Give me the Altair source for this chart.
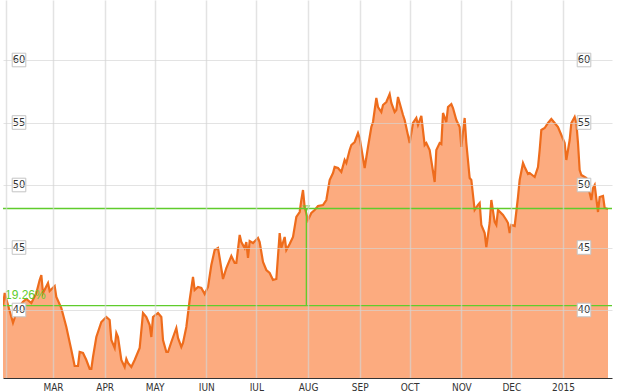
import altair as alt
import pandas as pd

# ---- price series ----
dates = [
    "2014-01-30", "2014-01-31", "2014-02-02", "2014-02-05", "2014-02-08", "2014-02-11",
    "2014-02-13", "2014-02-16", "2014-02-19", "2014-02-21", "2014-02-22", "2014-02-23",
    "2014-02-26", "2014-02-27", "2014-03-02", "2014-03-03", "2014-03-06", "2014-03-09",
    "2014-03-12", "2014-03-14", "2014-03-16", "2014-03-17", "2014-03-19", "2014-03-21",
    "2014-03-23", "2014-03-24", "2014-03-25", "2014-03-27", "2014-03-30", "2014-04-02",
    "2014-04-04", "2014-04-05", "2014-04-07", "2014-04-08", "2014-04-09", "2014-04-11",
    "2014-04-13", "2014-04-14", "2014-04-15", "2014-04-17", "2014-04-19", "2014-04-22",
    "2014-04-24", "2014-04-26", "2014-04-28", "2014-04-29", "2014-04-30", "2014-05-03",
    "2014-05-05", "2014-05-06", "2014-05-08", "2014-05-09", "2014-05-11", "2014-05-14",
    "2014-05-15", "2014-05-17", "2014-05-18", "2014-05-20", "2014-05-22", "2014-05-24",
    "2014-05-25", "2014-05-27", "2014-05-29", "2014-05-31", "2014-06-02", "2014-06-04",
    "2014-06-06", "2014-06-08", "2014-06-09", "2014-06-11", "2014-06-13", "2014-06-16",
    "2014-06-18", "2014-06-19", "2014-06-21", "2014-06-22", "2014-06-24", "2014-06-25",
    "2014-06-26", "2014-06-27", "2014-06-29", "2014-07-02", "2014-07-03", "2014-07-05",
    "2014-07-07", "2014-07-09", "2014-07-11", "2014-07-13", "2014-07-15", "2014-07-16",
    "2014-07-18", "2014-07-19", "2014-07-21", "2014-07-23", "2014-07-25", "2014-07-27",
    "2014-07-28", "2014-07-29", "2014-07-30", "2014-08-01", "2014-08-03", "2014-08-05",
    "2014-08-07", "2014-08-10", "2014-08-12", "2014-08-14", "2014-08-16", "2014-08-17",
    "2014-08-19", "2014-08-21", "2014-08-23", "2014-08-24", "2014-08-26", "2014-08-27",
    "2014-08-29", "2014-08-31", "2014-09-01", "2014-09-04", "2014-09-06", "2014-09-08",
    "2014-09-09", "2014-09-11", "2014-09-12", "2014-09-14", "2014-09-15", "2014-09-17",
    "2014-09-19", "2014-09-20", "2014-09-22", "2014-09-23", "2014-09-24", "2014-09-27",
    "2014-09-28", "2014-10-01", "2014-10-03", "2014-10-05", "2014-10-06", "2014-10-08",
    "2014-10-10", "2014-10-11", "2014-10-13", "2014-10-16", "2014-10-17", "2014-10-19",
    "2014-10-20", "2014-10-21", "2014-10-23", "2014-10-24", "2014-10-26", "2014-10-27",
    "2014-10-29", "2014-10-31", "2014-11-01", "2014-11-02", "2014-11-03", "2014-11-04",
    "2014-11-06", "2014-11-07", "2014-11-09", "2014-11-11", "2014-11-12", "2014-11-13",
    "2014-11-15", "2014-11-16", "2014-11-18", "2014-11-19", "2014-11-21", "2014-11-22",
    "2014-11-23", "2014-11-26", "2014-11-28", "2014-11-29", "2014-11-30", "2014-12-01",
    "2014-12-03", "2014-12-05", "2014-12-06", "2014-12-08", "2014-12-09", "2014-12-11",
    "2014-12-12", "2014-12-15", "2014-12-17", "2014-12-18", "2014-12-19", "2014-12-21",
    "2014-12-23", "2014-12-25", "2014-12-27", "2014-12-29", "2014-12-31", "2015-01-02",
    "2015-01-03", "2015-01-05", "2015-01-06", "2015-01-08", "2015-01-09", "2015-01-10",
    "2015-01-11", "2015-01-12", "2015-01-15", "2015-01-17", "2015-01-18", "2015-01-19",
    "2015-01-20", "2015-01-22", "2015-01-23", "2015-01-25", "2015-01-26", "2015-01-28",
]
prices = [
    40.32, 41.36, 40.40, 38.98, 40.16, 40.66,
    40.88, 40.56, 41.36, 42.40, 42.80, 41.36,
    42.16, 41.52, 41.92, 41.04, 40.16, 38.64,
    36.80, 35.52, 35.52, 36.64, 36.56, 36.00,
    35.28, 35.28, 36.24, 37.84, 39.04, 39.44,
    39.20, 37.60, 36.96, 38.16, 37.84, 36.00,
    35.44, 36.08, 35.76, 35.44, 36.00, 36.96,
    39.76, 39.44, 38.80, 37.84, 39.44, 39.76,
    39.44, 37.60, 36.64, 36.64, 37.44, 38.56,
    37.76, 37.04, 37.36, 38.64, 40.80, 42.64,
    41.60, 41.84, 41.76, 41.28, 41.84, 43.60,
    44.80, 44.96, 44.16, 42.48, 43.36, 44.32,
    43.76, 43.76, 46.00, 45.44, 44.96, 45.44,
    44.16, 45.52, 45.36, 45.76, 45.44, 43.84,
    43.20, 42.96, 42.40, 42.48, 46.16, 44.96,
    45.84, 44.80, 45.28, 45.84, 47.44, 47.84,
    48.80, 49.60, 48.24, 47.20, 47.76, 48.00,
    48.32, 48.40, 48.80, 50.40, 50.96, 51.44,
    51.36, 51.04, 52.00, 51.76, 52.80, 53.20,
    53.44, 54.16, 53.76, 51.36, 53.04, 54.64,
    55.04, 56.96, 56.24, 55.84, 56.40, 56.64,
    57.28, 56.56, 55.84, 56.00, 57.04, 55.60,
    55.20, 53.36, 54.96, 55.36, 54.80, 55.52,
    53.20, 53.36, 52.80, 50.24, 52.80, 53.36,
    53.28, 55.76, 55.04, 56.24, 56.48, 56.16,
    55.20, 54.64, 53.04, 54.24, 55.36, 53.36,
    50.56, 50.40, 48.00, 48.40, 48.56, 46.80,
    46.16, 45.04, 46.96, 48.80, 47.04, 46.80,
    48.00, 47.60, 47.20, 46.96, 46.16, 46.80,
    46.72, 49.04, 50.40, 51.76, 51.44, 50.88,
    50.96, 50.64, 51.44, 52.80, 54.40, 54.56,
    54.96, 55.28, 54.96, 54.64, 54.00, 53.36,
    52.00, 53.60, 54.96, 55.44, 54.96, 53.36,
    51.20, 50.80, 50.56, 49.36, 48.80, 49.76,
    50.00, 47.84, 49.04, 49.12, 48.16, 48.08,
]

# ---- measurement overlay ----
measure_low = 40.35
measure_high = 48.12
measure_date = "2014-07-31"
measure_label = "19.26%"

# ---- axis ticks ----
y_ticks = [40, 45, 50, 55, 60]
y_tick_labels = ["40", "45", "50", "55", "60"]
month_starts = [(2014, m) for m in range(2, 13)] + [(2015, 1)]

GREEN = "#5fcc2c"
FONT_NARROW = "Liberation Sans Narrow, Arial Narrow, DejaVu Sans Condensed, Liberation Sans"

df = pd.DataFrame({"date": dates, "price": prices})
ylab = pd.DataFrame({"v": y_ticks, "t": y_tick_labels})
hl = pd.DataFrame({"v": [measure_low, measure_high]})
vl = pd.DataFrame({"date": [measure_date], "lo": [measure_low], "hi": [measure_high]})
tl = pd.DataFrame({"date": [dates[0]], "v": [measure_low], "t": [measure_label]})
tri = pd.DataFrame({"date": [measure_date], "v": [measure_high]})

xscale = alt.Scale(
    type="utc",
    domain=[
        alt.DateTime(year=2014, month=1, date=30, utc=True),
        alt.DateTime(year=2015, month=1, date=30, hours=9, minutes=36, utc=True),
    ],
)
yscale = alt.Scale(domain=[34.56, 64.8], zero=False, nice=False)

xaxis = alt.Axis(
    title=None,
    values=[alt.DateTime(year=y, month=m, date=1, utc=True) for y, m in month_starts],
    labelExpr="utcmonth(datum.value) == 1 ? '' : (utcmonth(datum.value) == 0 ? utcFormat(datum.value, '%Y') : upper(utcFormat(datum.value, '%b')))",
    grid=True,
    gridColor="#d4d4d4",
    gridOpacity=0.65,
    gridWidth=1.5,
    domainColor="#333333",
    domainWidth=1,
    ticks=False,
    labelPadding=4,
    labelFont=FONT_NARROW,
    labelFontSize=10,
    labelColor="#333333",
    zindex=1,
)
yaxis = alt.Axis(
    title=None,
    values=y_ticks,
    labels=False,
    ticks=False,
    domain=False,
    grid=True,
    gridColor="#d4d4d4",
    gridOpacity=0.65,
    gridWidth=1,
    zindex=1,
)

base = alt.Chart(df)
area = base.mark_area(color="#fcab7f", opacity=1, clip=True).encode(
    x=alt.X("date:T", scale=xscale, axis=xaxis),
    y=alt.Y("price:Q", scale=yscale, axis=yaxis),
)
line = base.mark_line(color="#ee6c1c", strokeWidth=2.2, clip=True).encode(
    x=alt.X("date:T", scale=xscale),
    y=alt.Y("price:Q", scale=yscale),
)

hrules = alt.Chart(hl).mark_rule(color=GREEN, strokeWidth=1.3).encode(
    y=alt.Y("v:Q", scale=yscale)
)
vrule = alt.Chart(vl).mark_rule(color=GREEN, strokeWidth=1.3).encode(
    x=alt.X("date:T", scale=xscale),
    y=alt.Y("lo:Q", scale=yscale),
    y2="hi:Q",
)
trimark = alt.Chart(tri).mark_point(
    shape="triangle-down", size=35, color=GREEN, filled=False, strokeWidth=1.2
).encode(x=alt.X("date:T", scale=xscale), y=alt.Y("v:Q", scale=yscale))
pct = alt.Chart(tl).mark_text(
    align="left", baseline="alphabetic", dx=2, dy=-7, fontSize=12,
    font="Liberation Sans, Arial", color=GREEN,
).encode(x=alt.X("date:T", scale=xscale), y=alt.Y("v:Q", scale=yscale), text="t:N")


def label_column(xpix):
    box = alt.Chart(ylab).mark_square(
        size=185, fill="white", stroke="#c4c4c4", strokeWidth=1, opacity=1
    ).encode(x=alt.value(xpix), y=alt.Y("v:Q", scale=yscale))
    txt = alt.Chart(ylab).mark_text(
        fontSize=11, font=FONT_NARROW, color="#333333", baseline="middle", align="center"
    ).encode(x=alt.value(xpix), y=alt.Y("v:Q", scale=yscale), text="t:N")
    return box + txt


chart = alt.layer(
    area, line, hrules, vrule, trimark, pct, label_column(16), label_column(581)
).properties(
    width=609,
    height=378,
    background="white",
    padding={"left": 3, "right": 11, "top": 0, "bottom": 13},
    autosize=alt.AutoSizeParams(type="none"),
).configure_view(stroke=None)

chart.save("out.html", embed_options={"renderer": "svg", "actions": False})
